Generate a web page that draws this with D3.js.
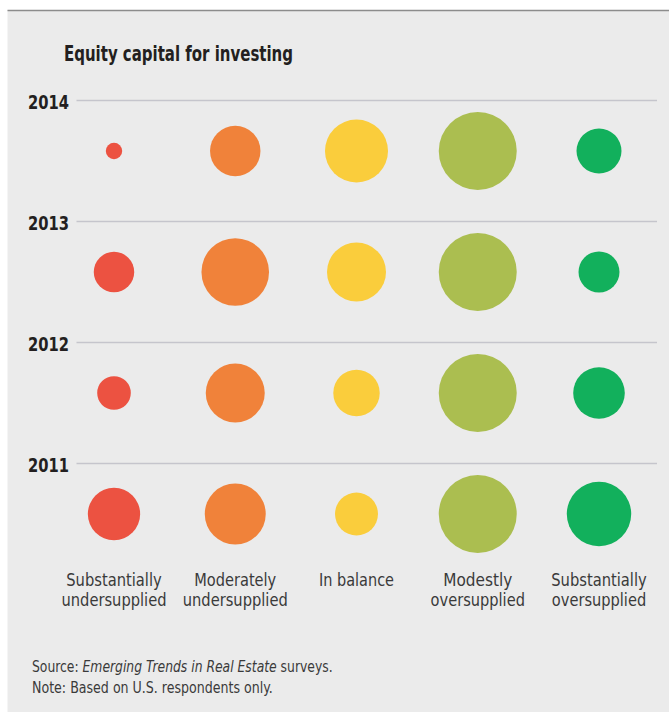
<!DOCTYPE html>
<html>
<head>
<meta charset="utf-8">
<script src="https://cdn.jsdelivr.net/npm/d3@7"></script>
<style>
  html, body { margin: 0; padding: 0; background: #ffffff; }
  svg { display: block; }
</style>
</head>
<body>
<script>
// ---------------- data ----------------
const title = "Equity capital for investing";
const years = ["2014", "2013", "2012", "2011"];
const categories = [
  ["Substantially", "undersupplied"],
  ["Moderately", "undersupplied"],
  ["In balance"],
  ["Modestly", "oversupplied"],
  ["Substantially", "oversupplied"]
];
const colors = ["#ec5241", "#f0823a", "#facd3c", "#abbe50", "#12b05c"];
// share of respondents (%), estimated from circle areas
const values2014 = [1.8, 17.1, 26.7, 40.9, 13.6];
const values2013 = [11.0, 30.7, 23.4, 40.9, 11.3];
const values2012 = [7.6, 23.4, 14.5, 40.9, 17.9];
const values2011 = [18.4, 25.0, 12.4, 40.9, 27.9];
const seriesValues = [values2014, values2013, values2012, values2011];
const sourceParts = [
  { text: "Source: ", italic: false },
  { text: "Emerging Trends in Real Estate", italic: true },
  { text: " surveys.", italic: false }
];
const noteText = "Note: Based on U.S. respondents only.";

// ---------------- layout ----------------
const W = 669, H = 712;
const FONT = "'Liberation Sans Narrow', 'DejaVu Sans Condensed', 'Liberation Sans', sans-serif";

const svg = d3.select("body").append("svg")
  .attr("width", W).attr("height", H);

svg.append("rect").attr("x", 7.5).attr("y", 10).attr("width", W - 7.5).attr("height", H - 10)
  .attr("fill", "#ebebeb");
svg.append("line").attr("x1", 7.5).attr("x2", W).attr("y1", 10.5).attr("y2", 10.5)
  .attr("stroke", "#8c8c8c").attr("stroke-width", 1.5);

const x = d3.scalePoint().domain(d3.range(categories.length)).range([114, 599]);
const y = d3.scalePoint().domain(years).range([151, 514]);
const r = d3.scaleSqrt().domain([0, 40.9]).range([0, 39]);

function fitWidth(sel, w) {
  sel.attr("textLength", w).attr("lengthAdjust", "spacingAndGlyphs");
}

// title
const t = svg.append("text").attr("x", 64).attr("y", 61)
  .attr("font-family", FONT).attr("font-weight", "bold").attr("font-size", 21)
  .attr("fill", "#231f20").text(title);
fitWidth(t, 229);

// rows
const rows = svg.selectAll("g.row").data(years).enter().append("g").attr("class", "row");
rows.append("line")
  .attr("x1", 76.5).attr("x2", 657)
  .attr("y1", d => Math.round(y(d) - 51) + 0.5).attr("y2", d => Math.round(y(d) - 51) + 0.5)
  .attr("stroke", "#c5c5cc").attr("stroke-width", 1.5);
rows.append("text")
  .attr("x", 28).attr("y", d => y(d) - 51 + 8.5)
  .attr("font-family", FONT).attr("font-weight", "bold").attr("font-size", 19)
  .attr("fill", "#231f20").text(d => d)
  .each(function () { fitWidth(d3.select(this), 41); });

rows.each(function (yr, i) {
  d3.select(this).selectAll("circle").data(seriesValues[i]).enter().append("circle")
    .attr("cx", (d, j) => x(j))
    .attr("cy", y(yr))
    .attr("r", d => r(d))
    .attr("fill", (d, j) => colors[j]);
});

// category labels (each line its own text element)
const labelWidths = {
  "Substantially": 95.5, "undersupplied": 105, "Moderately": 82,
  "In balance": 75, "Modestly": 69, "oversupplied": 94.3
};
categories.forEach((lines, j) => {
  lines.forEach((ln, k) => {
    const tx = svg.append("text")
      .attr("x", x(j)).attr("y", 586 + k * 19.5)
      .attr("font-family", FONT).attr("font-size", 17.5).attr("fill", "#3a3a3a")
      .attr("text-anchor", "middle").text(ln);
    fitWidth(tx, labelWidths[ln]);
  });
});

// source line: one text, squeezed horizontally by a transform
const srcG = svg.append("g");
const src = srcG.append("text").attr("x", 0).attr("y", 0)
  .attr("font-family", FONT).attr("font-size", 15).attr("fill", "#3a3a3a")
  .style("white-space", "pre");
sourceParts.forEach(p => {
  src.append("tspan").attr("font-style", p.italic ? "italic" : "normal").text(p.text);
});
const srcW = src.node().getComputedTextLength();
srcG.attr("transform", `translate(32,672) scale(${301 / srcW},1)`);

const noteG = svg.append("g");
const note = noteG.append("text").attr("x", 0).attr("y", 0)
  .attr("font-family", FONT).attr("font-size", 15).attr("fill", "#3a3a3a").text(noteText);
const noteW = note.node().getComputedTextLength();
noteG.attr("transform", `translate(32,693) scale(${241 / noteW},1)`);
</script>
</body>
</html>
